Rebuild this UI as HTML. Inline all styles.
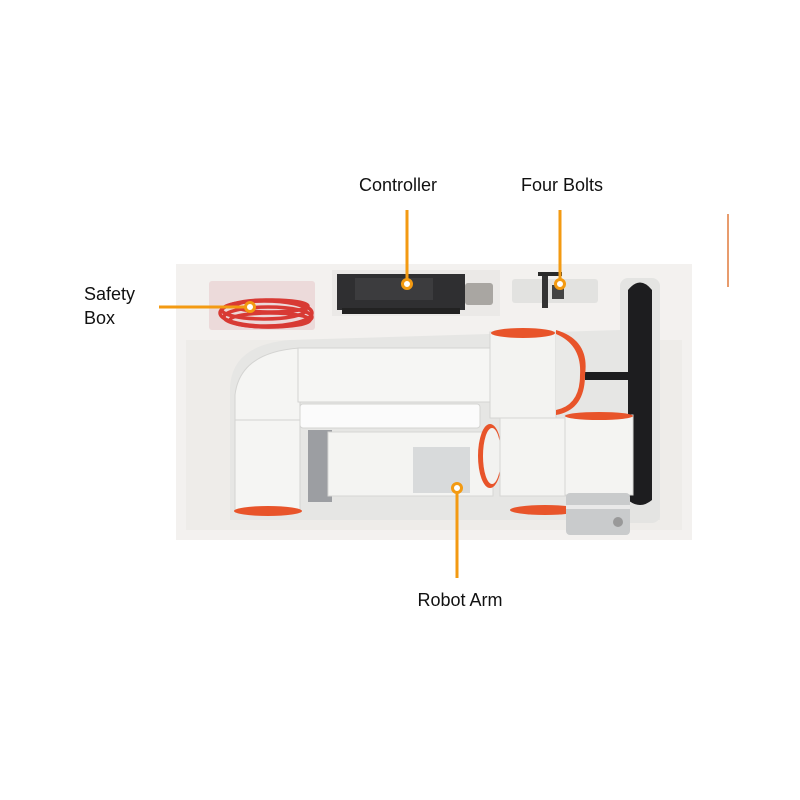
<!DOCTYPE html>
<html><head><meta charset="utf-8"><style>
html,body{margin:0;padding:0;background:#fff;}
svg{display:block;}
text{font-family:"Liberation Sans","DejaVu Sans",sans-serif;font-size:18px;fill:#111;}
</style></head><body>
<svg width="800" height="800" viewBox="0 0 800 800" xmlns="http://www.w3.org/2000/svg">
<rect x="176" y="264" width="516" height="276" fill="#f3f1ef"/>
<rect x="186" y="340" width="496" height="190" fill="#eeece9"/>
<path d="M230 520 L230 390 Q230 345 290 340 L620 330 L660 330 L660 520 Z" fill="#e6e6e4"/>
<!-- safety box -->
<rect x="209" y="281" width="106" height="49" rx="3" fill="#ecdada"/>
<g stroke="#d83a34" stroke-width="3.5" fill="none">
<ellipse cx="266" cy="313" rx="46" ry="13"/>
<ellipse cx="268" cy="317" rx="44" ry="10"/>
<ellipse cx="264" cy="310" rx="42" ry="9"/>
<ellipse cx="270" cy="320" rx="40" ry="7"/>
<ellipse cx="272" cy="306" rx="36" ry="6"/>
</g>
<!-- controller -->
<rect x="332" y="270" width="168" height="46" fill="#ebe9e7"/>
<rect x="337" y="274" width="128" height="36" fill="#2f2f31"/>
<rect x="355" y="278" width="78" height="22" fill="#3c3c3e"/>
<rect x="342" y="308" width="118" height="6" fill="#222"/>
<rect x="465" y="283" width="28" height="22" rx="3" fill="#a9a6a2"/>
<!-- bolts -->
<rect x="512" y="279" width="86" height="24" rx="3" fill="#e2e2e0"/>
<rect x="538" y="272" width="24" height="4" fill="#2a2a2a"/>
<rect x="542" y="276" width="6" height="32" fill="#333"/>
<rect x="552" y="285" width="12" height="14" fill="#444"/>
<!-- black cable -->
<rect x="620" y="278" width="40" height="245" rx="8" fill="#e4e4e2"/>
<path d="M628 290 Q640 275 652 290 L652 500 Q640 510 628 500 Z" fill="#1d1d1f"/>
<rect x="585" y="372" width="45" height="8" fill="#1d1d1f"/>
<g stroke="#d4d4d2" stroke-width="1">
<!-- elbow -->
<path d="M235 510 L235 395 Q240 352 300 348 L300 510 Z" fill="#f5f5f3"/>
<line x1="235" y1="420" x2="300" y2="420"/>
<!-- upper arm -->
<rect x="298" y="348" width="195" height="54" fill="#f6f6f4"/>
<rect x="300" y="404" width="180" height="24" rx="3" fill="#fbfbfb"/>
<!-- joint top -->
<rect x="490" y="332" width="66" height="86" fill="#f3f3f1"/>
</g>
<ellipse cx="268" cy="511" rx="34" ry="5" fill="#e8542a"/>
<ellipse cx="523" cy="333" rx="32" ry="5" fill="#e8542a"/>
<path d="M556 330 Q590 340 585 375 Q585 410 556 415 Z" fill="#e8542a"/>
<path d="M556 334 Q582 345 580 375 Q580 405 556 410 Z" fill="#e9e9e7"/>
<!-- lower arm -->
<rect x="308" y="430" width="24" height="72" fill="#9c9ea2"/>
<rect x="328" y="432" width="165" height="64" fill="#f4f4f2" stroke="#d6d6d4"/>
<rect x="413" y="447" width="57" height="46" fill="#d8dadb"/>
<ellipse cx="490" cy="456" rx="12" ry="32" fill="#e8542a"/>
<ellipse cx="492" cy="456" rx="9" ry="28" fill="#f2f2f0"/>
<!-- elbow joint right -->
<ellipse cx="545" cy="510" rx="35" ry="5" fill="#e8542a"/>
<rect x="500" y="418" width="70" height="78" fill="#f4f4f2" stroke="#d6d6d4"/>
<rect x="565" y="415" width="68" height="80" fill="#f4f4f2" stroke="#d6d6d4"/>
<ellipse cx="599" cy="416" rx="34" ry="4" fill="#e8542a"/>
<rect x="566" y="493" width="64" height="42" rx="4" fill="#c9cbcc"/>
<rect x="566" y="505" width="64" height="4" fill="#e9e9e9"/>
<circle cx="618" cy="522" r="5" fill="#999"/>
<!-- leaders -->
<g stroke="#f39a12" stroke-width="3" fill="none">
<line x1="407" y1="210" x2="407" y2="284"/>
<line x1="560" y1="210" x2="560" y2="284"/>
<line x1="159" y1="307" x2="249" y2="307"/>
<line x1="457" y1="488" x2="457" y2="578"/>
</g>
<line x1="728" y1="214" x2="728" y2="287" stroke="#e07a3c" stroke-width="1.5"/>
<g fill="#fff" stroke="#f39a12" stroke-width="3">
<circle cx="407" cy="284" r="4.5"/>
<circle cx="560" cy="284" r="4.5"/>
<circle cx="250" cy="307" r="4.5"/>
<circle cx="457" cy="488" r="4.5"/>
</g>
<text x="398" y="191" text-anchor="middle">Controller</text>
<text x="562" y="191" text-anchor="middle">Four Bolts</text>
<text x="84" y="300">Safety</text>
<text x="84" y="324">Box</text>
<text x="460" y="606" text-anchor="middle">Robot Arm</text>
</svg>
</body></html>
